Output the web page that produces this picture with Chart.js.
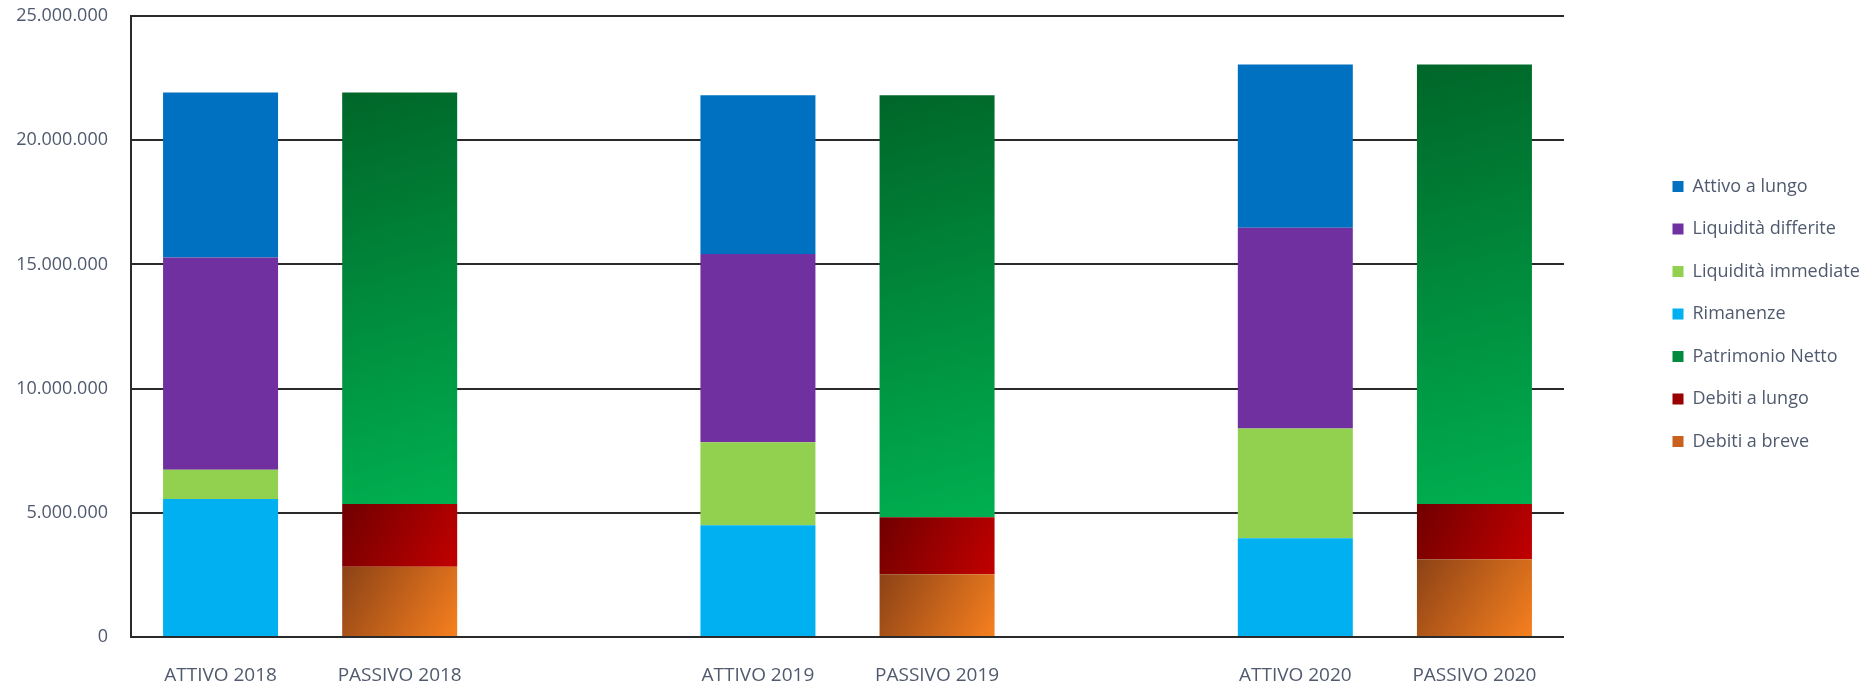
<!DOCTYPE html>
<html lang="it">
<head>
<meta charset="UTF-8">
<title>Attivo / Passivo 2018-2020</title>
<script src="https://cdn.jsdelivr.net/npm/chart.js@4"></script>
<style>
  html, body { margin: 0; padding: 0; background: #ffffff; }
  #wrap { width: 1872px; height: 689px; position: relative; }
</style>
</head>
<body>
<div id="wrap"><canvas id="stato"></canvas></div>
<script>
// categorie (colonne vuote tra un anno e l'altro)
const labels = ['ATTIVO 2018', 'PASSIVO 2018', '', 'ATTIVO 2019', 'PASSIVO 2019', '', 'ATTIVO 2020', 'PASSIVO 2020'];
const yTicks = [0, 5000000, 10000000, 15000000, 20000000, 25000000];
const yTickLabels = ['0', '5.000.000', '10.000.000', '15.000.000', '20.000.000', '25.000.000'];

// passivo
const debitiBreve    = [null, 2830000, null, null, 2530000, null, null, 3130000];
const debitiLungo    = [null, 2520000, null, null, 2290000, null, null, 2220000];
const patrimonio     = [null, 16570000, null, null, 16990000, null, null, 17700000];
// attivo
const rimanenze      = [5560000, null, null, 4500000, null, null, 3980000, null];
const liqImmediate   = [1170000, null, null, 3340000, null, null, 4410000, null];
const liqDifferite   = [8550000, null, null, 7580000, null, null, 8090000, null];
const attivoLungo    = [6640000, null, null, 6390000, null, null, 6570000, null];

const BAR_PCT = 0.642;
const TEXT = '#505a6e';
const GRID = '#2a2a2a';

// sfumatura diagonale per ogni singolo segmento
function diagonal(from, to, flat) {
  return (ctx) => {
    const chart = ctx.chart;
    if (ctx.raw == null || !chart.chartArea || !chart.scales.x) return flat;
    const xs = chart.scales.x, ys = chart.scales.y;
    let base = 0;
    for (let d = 0; d < ctx.datasetIndex; d++) {
      base += chart.data.datasets[d].data[ctx.dataIndex] || 0;
    }
    const half = xs.width / labels.length * BAR_PCT / 2;
    const cx = xs.getPixelForValue(ctx.dataIndex);
    const top = ys.getPixelForValue(base + ctx.raw);
    const bottom = ys.getPixelForValue(base);
    if (!isFinite(cx) || !isFinite(top) || !isFinite(bottom)) return flat;
    const g = chart.ctx.createLinearGradient(cx - half, top, cx + half, bottom);
    g.addColorStop(0, from);
    g.addColorStop(1, to);
    return g;
  };
}

const datasets = [
  { label: 'Debiti a breve', data: debitiBreve, backgroundColor: diagonal('#8c4216', '#f7801f', '#c9601c') },
  { label: 'Debiti a lungo', data: debitiLungo, backgroundColor: diagonal('#700000', '#c20000', '#9a0000') },
  { label: 'Patrimonio Netto', data: patrimonio, backgroundColor: diagonal('#006629', '#00b050', '#008a3d') },
  { label: 'Rimanenze', data: rimanenze, backgroundColor: '#00b0f0' },
  { label: 'Liquidità immediate', data: liqImmediate, backgroundColor: '#92d050' },
  { label: 'Liquidità differite', data: liqDifferite, backgroundColor: '#7030a0' },
  { label: 'Attivo a lungo', data: attivoLungo, backgroundColor: '#0070c0' }
];

// legenda spostata a destra del grafico
const LEGEND_X = 1648;
const LEGEND_Y = 153;
const legendPlace = {
  id: 'legendPlace',
  afterLayout(chart) {
    const lg = chart.legend;
    lg.left = LEGEND_X;
    lg.right = LEGEND_X + lg.width;
    lg.top = LEGEND_Y;
    lg.bottom = LEGEND_Y + lg.height;
  }
};

const chart = new Chart(document.getElementById('stato'), {
  type: 'bar',
  data: { labels, datasets },
  options: {
    responsive: true,
    maintainAspectRatio: false,
    devicePixelRatio: 1,
    animation: false,
    layout: { padding: { top: 0, left: 0, right: 0, bottom: 0 } },
    datasets: { bar: { barPercentage: BAR_PCT, categoryPercentage: 1, borderWidth: 0 } },
    scales: {
      x: {
        stacked: true,
        grid: { display: false, drawTicks: false },
        border: { display: false },
        ticks: {
          color: TEXT, padding: 27, autoSkip: false, maxRotation: 0,
          font: { family: 'Open Sans', size: 19 }
        },
        afterFit(scale) { scale.height = 52; }
      },
      y: {
        stacked: true,
        min: 0,
        max: 25000000,
        afterBuildTicks(scale) { scale.ticks = yTicks.map(v => ({ value: v })); },
        grid: { color: GRID, lineWidth: 2, drawTicks: false },
        border: { display: true, color: GRID, width: 2 },
        ticks: {
          color: TEXT, padding: 23,
          font: { family: 'Open Sans', size: 18 },
          callback: (v, i) => yTickLabels[i]
        },
        afterFit(scale) {
          scale.width = 131;
          scale.paddingTop = 16;
          scale.paddingBottom = 0;
        }
      }
    },
    plugins: {
      legend: {
        position: 'right',
        align: 'start',
        reverse: true,
        labels: {
          color: TEXT,
          boxWidth: 11,
          boxHeight: 11,
          padding: 24.5,
          font: { family: 'Open Sans', size: 18 }
        }
      },
      tooltip: { enabled: false }
    }
  },
  plugins: [legendPlace]
});

// area del grafico fino a x = 1564
chart.options.layout.padding.right = 1872 - 1564 - chart.legend.width;
chart.update('none');
</script>
</body>
</html>
